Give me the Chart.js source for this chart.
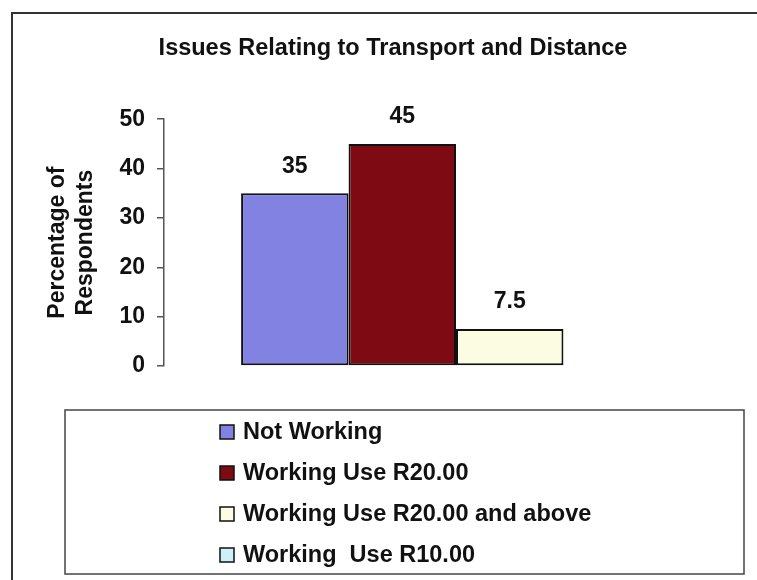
<!DOCTYPE html>
<html>
<head>
<meta charset="utf-8">
<title>Issues Relating to Transport and Distance</title>
<script src="https://cdn.jsdelivr.net/npm/chart.js@4.4.1/dist/chart.umd.min.js"></script>
<style>
  body { margin: 0; background: #fff; }
  canvas { display: block; }
</style>
</head>
<body>
<canvas id="transporte" width="757" height="580"></canvas>
<script>
// Datos del grafico
var categorias = [""];
var series = ["Not Working", "Working Use R20.00", "Working Use R20.00 and above", "Working  Use R10.00"];
var valores = [35, 45, 7.5, 0];
var colores = ["#8282e2", "#7e0a14", "#fcfce2", "#cdf1f8"];
var ticksY = [0, 10, 20, 30, 40, 50];

var fuente = "'Liberation Sans', Arial, sans-serif";
Chart.defaults.font.family = fuente;
Chart.defaults.color = "#111";

// Marco exterior
var marco = {
    id: "marco",
    afterDraw: function(chart) {
        var ctx = chart.ctx;
        ctx.save();
        ctx.strokeStyle = "#333";
        ctx.lineWidth = 2;
        ctx.beginPath();
        ctx.moveTo(12, 580);
        ctx.lineTo(12, 13);
        ctx.lineTo(757, 13);
        ctx.stroke();
        ctx.restore();
    }
};

// Etiquetas de valor encima de cada barra
var etiquetas = {
    id: "etiquetas",
    afterDatasetsDraw: function(chart) {
        var ctx = chart.ctx;
        ctx.save();
        ctx.font = "bold 23px " + fuente;
        ctx.fillStyle = "#111";
        ctx.textAlign = "center";
        ctx.textBaseline = "middle";
        chart.data.datasets.forEach(function(ds, i) {
            var meta = chart.getDatasetMeta(i);
            meta.data.forEach(function(bar, j) {
                var v = ds.data[j];
                if (!v) return;
                ctx.fillText(String(v), bar.x, bar.y - 27);
            });
        });
        ctx.restore();
    }
};

// Leyenda en recuadro debajo del grafico
var leyenda = {
    id: "leyenda",
    afterDraw: function(chart) {
        var ctx = chart.ctx;
        ctx.save();
        ctx.strokeStyle = "#444";
        ctx.lineWidth = 1.5;
        ctx.strokeRect(65, 410, 679, 164);
        ctx.font = "bold 23.5px " + fuente;
        ctx.textBaseline = "middle";
        ctx.textAlign = "left";
        chart.data.datasets.forEach(function(ds, i) {
            var y = 432 + i * 41;
            ctx.fillStyle = ds.backgroundColor;
            ctx.fillRect(220, y - 7, 14, 14);
            ctx.strokeStyle = "#111";
            ctx.lineWidth = 1.5;
            ctx.strokeRect(220, y - 7, 14, 14);
            ctx.fillStyle = "#111";
            ctx.fillText(ds.label, 243, y + 1);
        });
        ctx.restore();
    }
};

var datasets = series.map(function(nombre, i) {
    return {
        label: nombre,
        data: [valores[i]],
        backgroundColor: colores[i],
        borderColor: "#111",
        borderWidth: 2,
        borderSkipped: false
    };
});

var grafico = new Chart(document.querySelector("#transporte"), {
    type: "bar",
    data: {
        labels: categorias,
        datasets: datasets
    },
    options: {
        responsive: false,
        animation: false,
        categoryPercentage: 0.736,
        barPercentage: 1,
        layout: {
            padding: { left: 38, right: 9, top: 0, bottom: 214 }
        },
        plugins: {
            legend: { display: false },
            tooltip: { enabled: false },
            title: {
                display: true,
                text: "Issues Relating to Transport and Distance",
                color: "#111",
                font: { size: 23.5, weight: "bold", lineHeight: 1.2 },
                padding: { top: 34, bottom: 57 }
            }
        },
        scales: {
            x: { display: false },
            y: {
                min: 0,
                max: 50,
                afterBuildTicks: function(scale) {
                    scale.ticks = ticksY.map(function(v) { return { value: v }; });
                },
                afterFit: function(scale) {
                    scale.width = 126;
                },
                border: { display: true, color: "#555", width: 1.5 },
                grid: {
                    display: true,
                    drawOnChartArea: false,
                    drawTicks: true,
                    tickLength: 7,
                    color: "#555",
                    lineWidth: 1.5
                },
                ticks: {
                    padding: 12,
                    color: "#111",
                    font: { size: 23, weight: "bold" }
                },
                title: {
                    display: true,
                    text: ["Percentage of", "Respondents"],
                    color: "#111",
                    font: { size: 23, weight: "bold", lineHeight: 1.2 },
                    padding: { top: 6, bottom: 0 }
                }
            }
        }
    },
    plugins: [marco, etiquetas, leyenda]
});
</script>
</body>
</html>
